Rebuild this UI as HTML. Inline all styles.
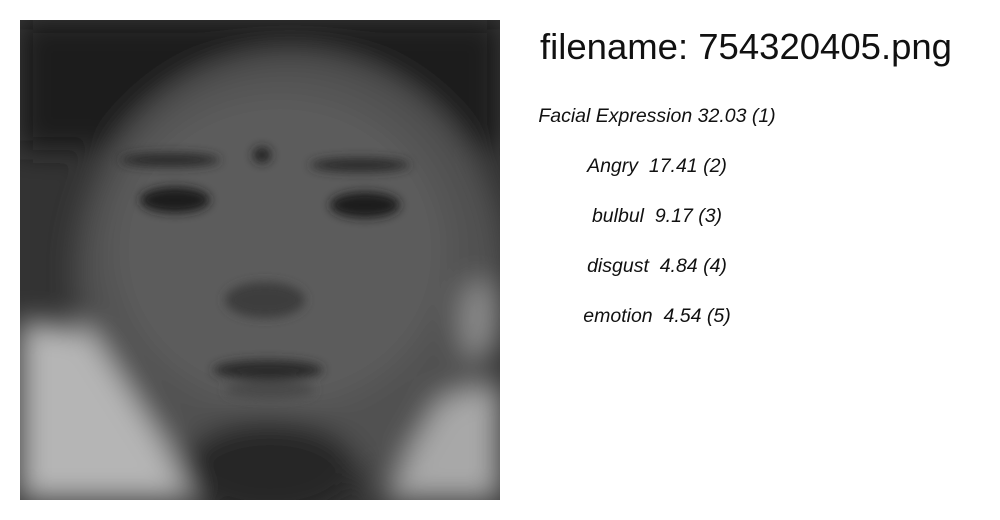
<!DOCTYPE html>
<html><head><meta charset="utf-8"><style>
html,body{margin:0;padding:0;background:#fff;width:1000px;height:520px;overflow:hidden}
svg{display:block}
#labels text{white-space:pre}
</style></head><body>
<svg id="root" width="1000" height="520" viewBox="0 0 1000 520">
<defs>
<filter id="bl" x="-20%" y="-20%" width="140%" height="140%"><feGaussianBlur stdDeviation="14"/></filter>
<filter id="bl2"><feGaussianBlur stdDeviation="5"/></filter>
<clipPath id="cp"><rect x="20" y="20" width="480" height="480"/></clipPath>
</defs>
<g clip-path="url(#cp)">
<rect x="20" y="20" width="480" height="480" fill="#333"/>
<g filter="url(#bl)">
<rect x="20" y="20" width="480" height="130" fill="#1c1c1c"/>
<ellipse cx="290" cy="270" rx="215" ry="220" fill="#515151"/>
<ellipse cx="280" cy="250" rx="170" ry="160" fill="#5c5c5c"/>
<polygon points="20,320 90,330 200,500 20,500" fill="#b5b5b5"/>
<polygon points="500,380 440,400 380,500 500,500" fill="#a8a8a8"/>
<ellipse cx="270" cy="470" rx="90" ry="50" fill="#252525"/>
<ellipse cx="480" cy="320" rx="20" ry="40" fill="#8a8a8a"/>
</g>
<g filter="url(#bl2)">
<ellipse cx="175" cy="200" rx="35" ry="13" fill="#1a1a1a"/>
<ellipse cx="365" cy="205" rx="35" ry="13" fill="#1a1a1a"/>
<ellipse cx="170" cy="160" rx="50" ry="7" fill="#2c2c2c"/>
<ellipse cx="360" cy="165" rx="50" ry="7" fill="#2c2c2c"/>
<ellipse cx="262" cy="155" rx="9" ry="8" fill="#222"/>
<ellipse cx="265" cy="300" rx="40" ry="18" fill="#3c3c3c"/>
<ellipse cx="268" cy="370" rx="55" ry="10" fill="#2a2a2a"/>
<ellipse cx="270" cy="390" rx="45" ry="9" fill="#4a4a4a"/>
</g>
</g>
<text x="540" y="59" font-family="Liberation Sans, sans-serif" font-size="36.5" fill="#111">filename: 754320405.png</text>
<g id="labels" font-family="Liberation Sans, sans-serif" font-style="italic" font-size="19.5" fill="#111" text-anchor="middle"></g>
</svg>
<script>
const categories=["Facial Expression","Angry","bulbul","disgust","emotion"];
const scores=["32.03","17.41","9.17","4.84","4.54"];
const ranks=[1,2,3,4,5];
const g=document.getElementById('labels');
categories.forEach((c,i)=>{
  const t=document.createElementNS('http://www.w3.org/2000/svg','text');
  t.setAttribute('x',657);
  t.setAttribute('y',122+i*50);
  t.textContent=c+(i===0?' ':'  ')+scores[i]+' ('+ranks[i]+')';
  
  
  g.appendChild(t);
});
</script>
</body></html>
